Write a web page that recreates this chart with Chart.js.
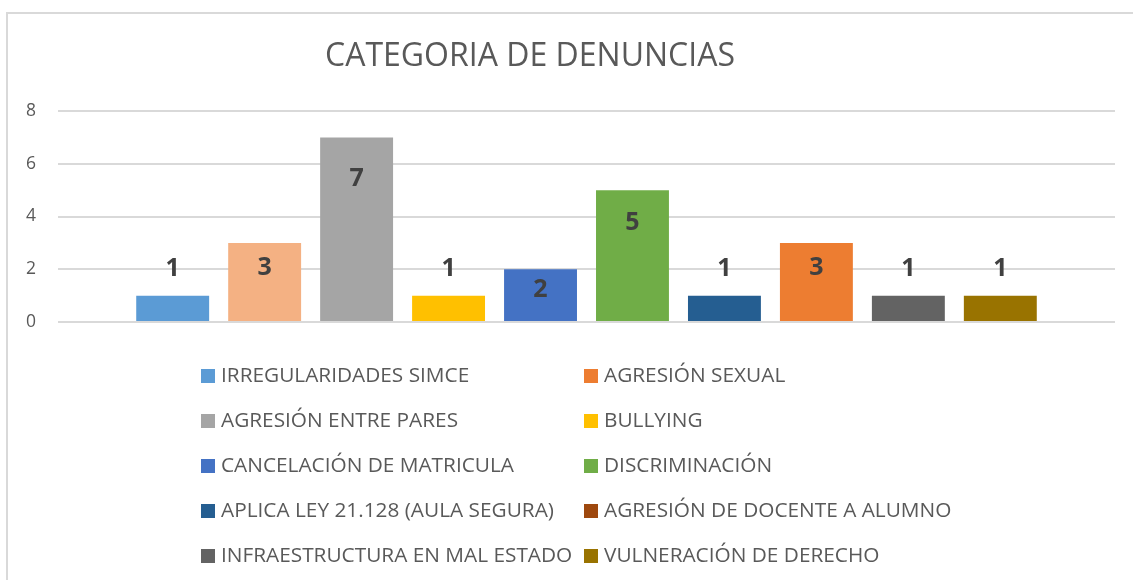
<!DOCTYPE html>
<html>
<head>
<meta charset="utf-8">
<script src="https://cdn.jsdelivr.net/npm/chart.js@4.4.0/dist/chart.umd.min.js"></script>
<style>
  body { margin: 0; background: #fff; }
  #wrap { position: relative; width: 1133px; height: 580px; overflow: hidden; font-family: 'Open Sans', sans-serif; }
  #frame { position: absolute; left: 6px; top: 12px; width: 1140px; height: 600px; border-left: 2px solid #d9d9d9; border-top: 2px solid #d9d9d9; }
  #chart { position: absolute; left: 0; top: 0; }
  #title { position: absolute; left: 0; width: 1060px; top: 34px; text-align: center; font-size: 32px; color: #595959; line-height: 40px; }
  .item { position: absolute; height: 22px; line-height: 22px; font-size: 20.8px; color: #595959; white-space: nowrap; }
  .item i { display: inline-block; width: 14px; height: 14px; margin-right: 6px; vertical-align: -1px; }
</style>
</head>
<body>
<div id="wrap">
  <div id="frame"></div>
  <canvas id="chart" width="1133" height="580"></canvas>
  <div id="title">CATEGORIA DE DENUNCIAS</div>
  <div id="legend"></div>
</div>
<script>
// categorias en el orden de la leyenda
var categorias = [
    'IRREGULARIDADES SIMCE',
    'AGRESIÓN SEXUAL',
    'AGRESIÓN ENTRE PARES',
    'BULLYING',
    'CANCELACIÓN DE MATRICULA',
    'DISCRIMINACIÓN',
    'APLICA LEY 21.128 (AULA SEGURA)',
    'AGRESIÓN DE DOCENTE A ALUMNO',
    'INFRAESTRUCTURA EN MAL ESTADO',
    'VULNERACIÓN DE DERECHO'
];
var valores = [1, 3, 7, 1, 2, 5, 1, 3, 1, 1];
var coloresBarras = ['#5b9bd5', '#f4b183', '#a5a5a5', '#ffc000', '#4472c4', '#70ad47', '#255e91', '#ed7d31', '#636363', '#997300'];
var coloresLeyenda = ['#5b9bd5', '#ed7d31', '#a5a5a5', '#ffc000', '#4472c4', '#70ad47', '#255e91', '#9e480e', '#636363', '#997300'];
var ticksY = [0, 2, 4, 6, 8];

var datasets = categorias.map(function (nombre, i) {
    return {
        label: nombre,
        data: [valores[i]],
        backgroundColor: coloresBarras[i],
        borderWidth: 0
    };
});

// etiquetas de datos estilo Excel
var etiquetas = {
    id: 'etiquetas',
    afterDatasetsDraw: function (chart) {
        var ctx = chart.ctx;
        ctx.save();
        ctx.font = 'bold 25px "Open Sans"';
        ctx.fillStyle = '#404040';
        ctx.textAlign = 'center';
        ctx.textBaseline = 'middle';
        chart.data.datasets.forEach(function (ds, i) {
            var bar = chart.getDatasetMeta(i).data[0];
            var v = ds.data[0];
            var y = v < 2 ? bar.y - 27 : bar.y + 13 + 4 * v;
            ctx.fillText(String(v), bar.x, y);
        });
        ctx.restore();
    }
};

var ctx = document.getElementById('chart').getContext('2d');
var miGrafica = new Chart(ctx, {
    type: 'bar',
    data: { labels: [''], datasets: datasets },
    options: {
        responsive: false,
        animation: false,
        layout: { padding: { left: 0, right: 18, top: 111, bottom: 258 } },
        datasets: { bar: { categoryPercentage: 0.87, barPercentage: 0.793 } },
        plugins: { legend: { display: false }, title: { display: false }, tooltip: { enabled: false } },
        scales: {
            x: { display: false },
            y: {
                min: 0,
                max: 8,
                afterFit: function (s) { s.width = 58; },
                afterBuildTicks: function (s) { s.ticks = ticksY.map(function (t) { return { value: t }; }); },
                border: { display: false },
                grid: { color: '#d9d9d9', lineWidth: 2, drawTicks: false },
                ticks: { padding: 22, color: '#595959', font: { family: 'Open Sans', size: 17.5 } }
            }
        }
    },
    plugins: [etiquetas]
});

// leyenda en dos columnas
var leyenda = document.getElementById('legend');
categorias.forEach(function (nombre, i) {
    var d = document.createElement('div');
    d.className = 'item';
    d.style.left = (i % 2 === 0 ? 201 : 584) + 'px';
    d.style.top = (363 + Math.floor(i / 2) * 45) + 'px';
    d.innerHTML = '<i style="background:' + coloresLeyenda[i] + '"></i>' + nombre;
    leyenda.appendChild(d);
});
</script>
</body>
</html>
